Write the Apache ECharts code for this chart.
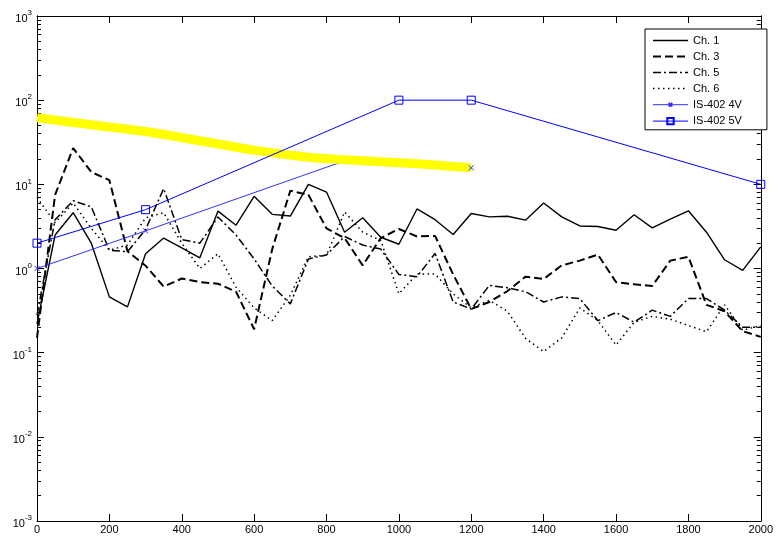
<!DOCTYPE html>
<html>
<head>
<meta charset="utf-8">
<script src="https://cdn.jsdelivr.net/npm/echarts@6/dist/echarts.min.js"></script>
<style>
  html, body { margin: 0; padding: 0; background: #fff; }
  #chart { width: 776px; height: 536px; }
</style>
</head>
<body>
<div id="chart"></div>
<script>
// Frequency grid shared by the four channels
const freq = [0, 50, 100, 150, 200, 250, 300, 350, 400, 450, 500, 550, 600, 650, 700, 750, 800, 850, 900, 950,
  1000, 1050, 1100, 1150, 1200, 1250, 1300, 1350, 1400, 1450, 1500, 1550, 1600, 1650, 1700, 1750, 1800, 1850, 1900, 1950, 2000];

const ch1 = [0.22, 2.5, 4.6, 2.0, 0.46, 0.35, 1.5, 2.3, 1.76, 1.34, 4.8, 3.27, 7.2, 4.4, 4.2, 10.0, 8.1, 2.7, 4.0, 2.35,
  1.94, 5.1, 3.8, 2.53, 4.5, 4.1, 4.17, 3.75, 6.0, 4.1, 3.2, 3.15, 2.85, 4.35, 3.04, 3.85, 4.85, 2.7, 1.27, 0.95, 1.81];

const ch3 = [0.15, 7.5, 27, 14, 11.2, 1.6, 1.08, 0.61, 0.76, 0.69, 0.66, 0.53, 0.19, 1.7, 8.4, 7.5, 3.0, 2.3, 1.09, 2.3,
  2.95, 2.4, 2.44, 0.85, 0.33, 0.4, 0.54, 0.8, 0.75, 1.09, 1.24, 1.46, 0.69, 0.65, 0.62, 1.24, 1.38, 0.37, 0.31, 0.18, 0.154];

const ch5 = [0.28, 3.8, 6.4, 5.4, 1.65, 1.58, 2.9, 8.9, 2.2, 2.0, 4.1, 2.5, 1.3, 0.62, 0.38, 1.3, 1.45, 2.4, 1.9, 1.7,
  0.85, 0.8, 1.51, 0.4, 0.33, 0.63, 0.59, 0.53, 0.4, 0.46, 0.44, 0.24, 0.3, 0.23, 0.32, 0.27, 0.44, 0.44, 0.32, 0.2, 0.2];

const ch6 = [7.0, 3.5, 6.0, 3.0, 1.65, 1.9, 4.0, 4.6, 2.0, 1.0, 1.5, 0.6, 0.34, 0.24, 0.48, 1.38, 1.44, 4.7, 2.7, 2.15,
  0.5, 0.86, 0.86, 0.5, 0.34, 0.42, 0.31, 0.148, 0.103, 0.15, 0.34, 0.24, 0.123, 0.23, 0.27, 0.25, 0.21, 0.177, 0.37, 0.185, 0.21];

// IS-402 reference curves
const is4vFreq = [0, 300, 850, 1200];
const is4v = [1.0, 2.8, 19.0, 15.7];
const is5vFreq = [0, 300, 1000, 1200, 2000];
const is5v = [2, 5, 100, 100, 10];

// Highlighted envelope
const bandFreq = [0, 150, 300, 450, 600, 750, 850, 1000, 1100, 1200];
const band = [62, 51, 42.5, 33, 25.5, 21, 19.6, 18.1, 17, 15.7];

// Axis ticks
const xTicks = [0, 200, 400, 600, 800, 1000, 1200, 1400, 1600, 1800, 2000];
const decades = [0.001, 0.01, 0.1, 1, 10, 100, 1000];

const minorTicks = [];
for (let d = -3; d < 3; d++) {
  for (let k = 2; k <= 9; k++) minorTicks.push(+(k * Math.pow(10, d)).toPrecision(3));
}

const pairs = (xs, ys) => xs.map((x, i) => [x, ys[i]]);
const FONT = '"Liberation Sans", Arial, Helvetica, sans-serif';

const chart = echarts.init(document.getElementById('chart'), null, { renderer: 'canvas' });

function yAxisBase(position, ticks, len, labels) {
  return {
    type: 'log', logBase: 10, min: 0.001, max: 1000, position: position,
    axisLine: { show: true, lineStyle: { color: '#000', width: 1 } },
    axisTick: { show: true, inside: true, length: len, customValues: ticks, lineStyle: { color: '#000', width: 1 } },
    axisLabel: labels ? {
      show: true, customValues: decades, margin: 5, color: '#000', fontFamily: FONT,
      formatter: v => '{b|10}{s|' + Math.round(Math.log10(v)) + '}',
      rich: {
        b: { fontSize: 11, fontFamily: FONT, color: '#000', lineHeight: 14, padding: [6, 0, 0, 0] },
        s: { fontSize: 8, fontFamily: FONT, color: '#000', verticalAlign: 'top', lineHeight: 10 }
      }
    } : { show: false },
    splitLine: { show: false }, minorTick: { show: false }, minorSplitLine: { show: false }
  };
}

function xAxisBase(position, labels) {
  return {
    type: 'value', min: 0, max: 2000, interval: 200, position: position,
    axisLine: { show: true, onZero: false, lineStyle: { color: '#000', width: 1 } },
    axisTick: { show: true, inside: true, length: 7, customValues: xTicks, lineStyle: { color: '#000', width: 1 } },
    axisLabel: labels ? {
      show: true, customValues: xTicks, color: '#000', fontSize: 11, fontFamily: FONT, margin: 3,
      alignMaxLabel: 'center', alignMinLabel: 'center',
      formatter: v => String(v)
    } : { show: false },
    splitLine: { show: false }
  };
}

// Cross marker; the leading moves pad the box so the cross stays small in the legend too
const xMarker = 'path://M-4,-4M14,14M0,0L10,10M10,0L0,10';

// Channel traces show only their line in the legend
const lineOnly = { itemStyle: { opacity: 0 } };

// 4V points; the vertex lying under the highlighted envelope carries no marker
const is4vData = pairs(is4vFreq, is4v).map((p, i) => (i === 2 ? { value: p, symbol: 'none' } : p));

const option = {
  animation: false,
  backgroundColor: '#fff',
  grid: { left: 37, right: 9, top: 16, bottom: 15, containLabel: false },
  xAxis: [xAxisBase('bottom', true), xAxisBase('top', false)],
  yAxis: [
    yAxisBase('left', decades, 7, true),
    yAxisBase('left', minorTicks, 4, false),
    yAxisBase('right', decades, 7, false),
    yAxisBase('right', minorTicks, 4, false)
  ],
  legend: {
    orient: 'vertical', left: 645, top: 29,
    data: [
      Object.assign({ name: 'Ch. 1' }, lineOnly),
      Object.assign({ name: 'Ch. 3' }, lineOnly),
      Object.assign({ name: 'Ch. 5' }, lineOnly),
      Object.assign({ name: 'Ch. 6' }, lineOnly),
      { name: 'IS-402 4V' },
      { name: 'IS-402 5V' }
    ],
    itemWidth: 35, itemHeight: 8, itemGap: 5,
    padding: [6, 25, 3, 7],
    backgroundColor: '#fff', borderColor: '#000', borderWidth: 1, borderRadius: 0,
    textStyle: { color: '#000', fontSize: 11, fontFamily: FONT },
    lineStyle: { width: 'inherit' },
    selectedMode: false
  },
  series: [
    { name: 'Ch. 1', type: 'line', data: pairs(freq, ch1), symbol: 'circle', showSymbol: false,
      lineStyle: { color: '#000', width: 1.4, type: 'solid' }, itemStyle: { color: '#000' } },
    { name: 'Ch. 3', type: 'line', data: pairs(freq, ch3), symbol: 'circle', showSymbol: false,
      lineStyle: { color: '#000', width: 2, type: [8, 4] }, itemStyle: { color: '#000' } },
    { name: 'Ch. 5', type: 'line', data: pairs(freq, ch5), symbol: 'circle', showSymbol: false,
      lineStyle: { color: '#000', width: 1.5, type: [8, 3, 2, 3] }, itemStyle: { color: '#000' } },
    { name: 'Ch. 6', type: 'line', data: pairs(freq, ch6), symbol: 'circle', showSymbol: false,
      lineStyle: { color: '#000', width: 1.5, type: [1.5, 3.5] }, itemStyle: { color: '#000' } },
    { name: 'IS-402 4V', type: 'line', data: is4vData,
      symbol: xMarker, symbolSize: 9, showAllSymbol: true,
      lineStyle: { color: '#3030ff', width: 1 },
      itemStyle: { color: 'none', borderColor: '#3030ff', borderWidth: 1 } },
    { name: 'band', type: 'line', data: pairs(bandFreq, band), symbol: 'none', smooth: 0.3,
      lineStyle: { color: '#ffff00', width: 9, cap: 'butt' }, itemStyle: { color: '#ffff00' }, z: 3 },
    { name: 'IS-402 5V', type: 'line', data: pairs(is5vFreq, is5v),
      symbol: 'rect', symbolSize: 8, showAllSymbol: true,
      lineStyle: { color: '#0000ff', width: 1 },
      itemStyle: { color: 'none', borderColor: '#0000ff', borderWidth: 1 }, z: 4 }
  ]
};

chart.setOption(option);
</script>
</body>
</html>
